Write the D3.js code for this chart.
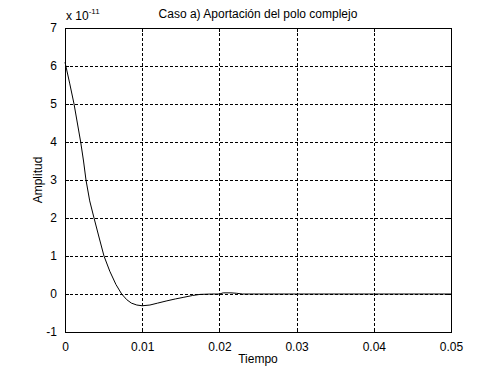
<!DOCTYPE html>
<html>
<head>
<meta charset="utf-8">
<script src="https://cdn.jsdelivr.net/npm/d3@7"></script>
<style>
  body { margin: 0; background: #fff; }
  text { font-family: "Liberation Sans", Arial, sans-serif; fill: #000; }
</style>
</head>
<body>
<div id="chart"></div>
<script>
// respuesta (amplitud en unidades de 1e-11)
const tiempo = [0, 0.0006, 0.00117, 0.0016, 0.00203, 0.0024, 0.00272, 0.0032, 0.00376, 0.0044, 0.00505,
  0.0058, 0.0066, 0.00734, 0.0080, 0.0086, 0.0093, 0.0100, 0.0110, 0.0120, 0.0132, 0.0143, 0.0153,
  0.0165, 0.0175, 0.0190, 0.0200, 0.0205, 0.0215, 0.0222, 0.0230, 0.0300, 0.0400, 0.0500];
const amplitud = [6.1, 5.55, 5.0, 4.5, 4.0, 3.5, 3.0, 2.45, 2.0, 1.5, 1.0,
  0.6, 0.25, 0.0, -0.15, -0.24, -0.29, -0.31, -0.29, -0.24, -0.18, -0.13, -0.09,
  -0.04, -0.01, 0.0, 0.0, 0.03, 0.03, 0.02, 0.0, 0.0, 0.0, 0.0];
const xTicks = [0, 0.01, 0.02, 0.03, 0.04, 0.05];
const yTicks = [-1, 0, 1, 2, 3, 4, 5, 6, 7];

const width = 499, height = 374;
const margin = {top: 28, right: 48, bottom: 42, left: 65};

const svg = d3.select("#chart").append("svg")
  .attr("width", width).attr("height", height);

const x = d3.scaleLinear().domain([0, 0.05]).range([margin.left, width - margin.right]);
const y = d3.scaleLinear().domain([-1, 7]).range([height - margin.bottom, margin.top]);

// rejilla
const grid = svg.append("g").attr("stroke", "#000").attr("stroke-dasharray", "3,2")
  .attr("shape-rendering", "crispEdges");
grid.selectAll(".gx").data(xTicks.slice(1, -1)).enter().append("line")
  .attr("x1", d => Math.round(x(d)) + 0.5).attr("x2", d => Math.round(x(d)) + 0.5)
  .attr("y1", y(7)).attr("y2", y(-1));
grid.selectAll(".gy").data(yTicks.slice(1, -1)).enter().append("line")
  .attr("y1", d => Math.round(y(d)) + 0.5).attr("y2", d => Math.round(y(d)) + 0.5)
  .attr("x1", x(0)).attr("x2", x(0.05));

// curva
const data = tiempo.map((t, i) => [t, amplitud[i]]);
svg.append("path").datum(data)
  .attr("fill", "none").attr("stroke", "#000").attr("stroke-width", 1)
  .attr("d", d3.line().x(d => x(d[0])).y(d => y(d[1])));

// ejes (ticks hacia dentro)
const fmtX = d => d === 0 ? "0" : d3.format(".2f")(d);
const fmtY = d => String(d);
svg.append("g").attr("transform", `translate(0,${y(-1)})`)
  .call(d3.axisBottom(x).tickValues(xTicks).tickFormat(fmtX).tickSizeInner(-4).tickSizeOuter(0).tickPadding(10))
  .call(g => g.selectAll("text").attr("font-size", 12).attr("font-family", "Liberation Sans, Arial, sans-serif"));
svg.append("g").attr("transform", `translate(${x(0)},0)`)
  .call(d3.axisLeft(y).tickValues(yTicks).tickFormat(fmtY).tickSizeInner(-4).tickSizeOuter(0).tickPadding(8))
  .call(g => g.selectAll("text").attr("font-size", 12).attr("font-family", "Liberation Sans, Arial, sans-serif"));
svg.append("g").attr("transform", `translate(0,${y(7)})`)
  .call(d3.axisTop(x).tickValues(xTicks).tickFormat("").tickSizeInner(-4).tickSizeOuter(0));
svg.append("g").attr("transform", `translate(${x(0.05)},0)`)
  .call(d3.axisRight(y).tickValues(yTicks).tickFormat("").tickSizeInner(-4).tickSizeOuter(0));
svg.selectAll(".domain, .tick line").attr("stroke", "#000").attr("shape-rendering", "crispEdges");

// textos
svg.append("text").attr("x", (x(0) + x(0.05)) / 2).attr("y", 18)
  .attr("text-anchor", "middle").attr("font-size", 12)
  .text("Caso a) Aportación del polo complejo");
svg.append("text").attr("x", (x(0) + x(0.05)) / 2).attr("y", 363)
  .attr("text-anchor", "middle").attr("font-size", 12).text("Tiempo");
svg.append("text").attr("transform", `translate(42,${(y(-1) + y(7)) / 2}) rotate(-90)`)
  .attr("text-anchor", "middle").attr("font-size", 12).text("Amplitud");
const exp = svg.append("text").attr("x", 66).attr("y", 20).attr("font-size", 12);
exp.append("tspan").text("x 10");
exp.append("tspan").attr("dy", -6).attr("font-size", 8).text("-11");
</script>
</body>
</html>
